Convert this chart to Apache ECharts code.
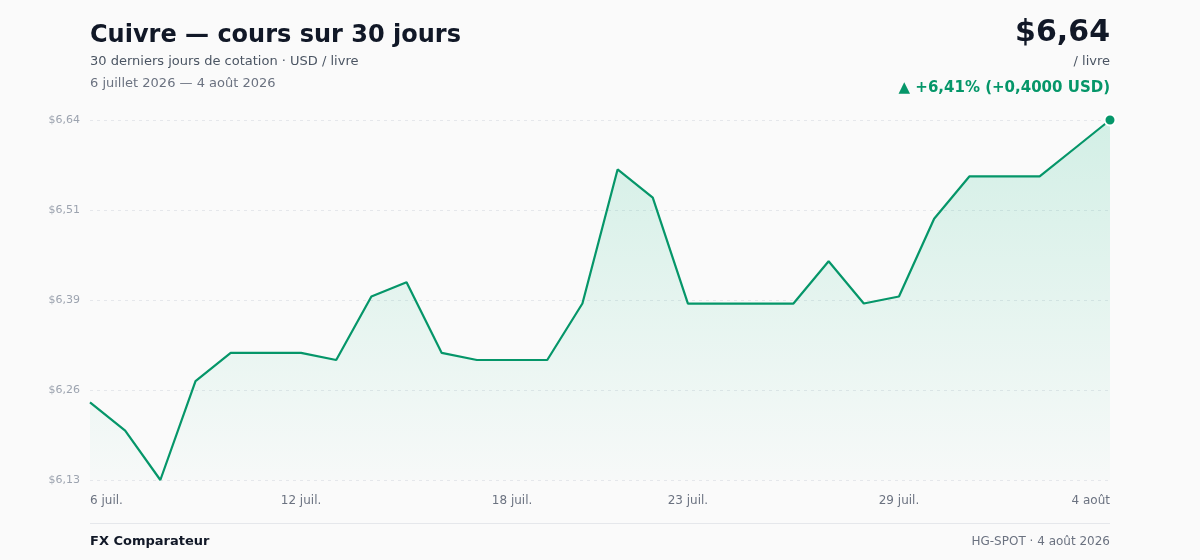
<!DOCTYPE html>
<html>
<head>
<meta charset="utf-8">
<script src="https://cdn.jsdelivr.net/npm/echarts@6/dist/echarts.min.js"></script>
<style>
  html, body { margin: 0; padding: 0; background: #fafafa; }
  #chart { width: 1200px; height: 560px; }
</style>
</head>
<body>
<div id="chart"></div>
<script>
// données : cours du cuivre, 30 jours
const dates = [
    '6 juil.', '7 juil.', '8 juil.', '9 juil.', '10 juil.', '11 juil.', '12 juil.',
    '13 juil.', '14 juil.', '15 juil.', '16 juil.', '17 juil.', '18 juil.', '19 juil.',
    '20 juil.', '21 juil.', '22 juil.', '23 juil.', '24 juil.', '25 juil.', '26 juil.',
    '27 juil.', '28 juil.', '29 juil.', '30 juil.', '31 juil.', '1 août', '2 août',
    '3 août', '4 août'
];
const prices = [
    6.24, 6.20, 6.13, 6.27, 6.31, 6.31, 6.31, 6.30, 6.39, 6.41,
    6.31, 6.30, 6.30, 6.30, 6.38, 6.57, 6.53, 6.38, 6.38, 6.38,
    6.38, 6.44, 6.38, 6.39, 6.50, 6.56, 6.56, 6.56, 6.60, 6.64
];
const yTicks = [6.13, 6.2575, 6.385, 6.5125, 6.64];
const xLabelIdx = [0, 6, 12, 17, 23, 29];

const green = '#059669';
const font = 'DejaVu Sans';

function fmtPrice(v) {
    return '$' + (v + 1e-9).toFixed(2).replace('.', ',');
}

// petit raccourci pour les textes d'en-tête / pied
function txt(text, pos, size, weight, color) {
    return Object.assign({
        text: text,
        padding: 0,
        textStyle: { fontSize: size, fontWeight: weight, color: color, fontFamily: font }
    }, pos);
}

const chart = echarts.init(document.getElementById('chart'));

const option = {
    backgroundColor: '#fafafa',
    textStyle: { fontFamily: font },
    animation: false,
    title: [
        txt('Cuivre — cours sur 30 jours', { left: 90, top: 24 }, 24, 'bold', '#111827'),
        txt('30 derniers jours de cotation · USD / livre', { left: 90, top: 55 }, 13, 'normal', '#4b5563'),
        txt('6 juillet 2026 — 4 août 2026', { left: 90, top: 77 }, 13, 'normal', '#6b7280'),
        txt(fmtPrice(prices[prices.length - 1]), { right: 90, top: 18 }, 30, 'bold', '#111827'),
        txt('/ livre', { right: 90, top: 55 }, 13, 'normal', '#4b5563'),
        txt('▲ +6,41% (+0,4000 USD)', { right: 90, top: 81 }, 15, 'bold', green),
        txt('FX Comparateur', { left: 90, top: 535 }, 13, 'bold', '#111827'),
        txt('HG-SPOT · 4 août 2026', { right: 90, top: 536 }, 12, 'normal', '#6b7280')
    ],
    graphic: [
        {
            type: 'line',
            shape: { x1: 90, y1: 523.5, x2: 1110, y2: 523.5 },
            style: { stroke: '#e5e7eb', lineWidth: 1 }
        }
    ],
    grid: { left: 90, right: 90, top: 120, bottom: 80 },
    xAxis: {
        type: 'category',
        data: dates,
        boundaryGap: false,
        axisLine: { show: false },
        axisTick: { show: false },
        splitLine: { show: false },
        axisLabel: {
            interval: function (idx) { return xLabelIdx.indexOf(idx) >= 0; },
            color: '#6b7280',
            fontSize: 12,
            margin: 15,
            alignMinLabel: 'left',
            alignMaxLabel: 'right'
        }
    },
    yAxis: {
        type: 'value',
        min: yTicks[0],
        max: yTicks[yTicks.length - 1],
        axisLine: { show: false },
        axisTick: { show: false, customValues: yTicks },
        axisLabel: {
            customValues: yTicks,
            formatter: fmtPrice,
            color: '#9ca3af',
            fontSize: 11,
            margin: 10
        },
        splitLine: {
            show: true,
            lineStyle: { color: '#e5e7eb', type: [3, 4], width: 1 }
        }
    },
    series: [
        {
            type: 'line',
            data: prices,
            showSymbol: true,
            showAllSymbol: true,
            symbol: 'circle',
            symbolSize: function (v, p) { return p.dataIndex === prices.length - 1 ? 11 : 0; },
            itemStyle: { color: green, borderColor: '#ffffff', borderWidth: 2 },
            lineStyle: { color: green, width: 2.2 },
            areaStyle: {
                color: new echarts.graphic.LinearGradient(0, 0, 0, 1, [
                    { offset: 0, color: 'rgba(16, 185, 129, 0.24)' },
                    { offset: 1, color: 'rgba(16, 185, 129, 0.02)' }
                ])
            }
        }
    ]
};

chart.setOption(option);
</script>
</body>
</html>
